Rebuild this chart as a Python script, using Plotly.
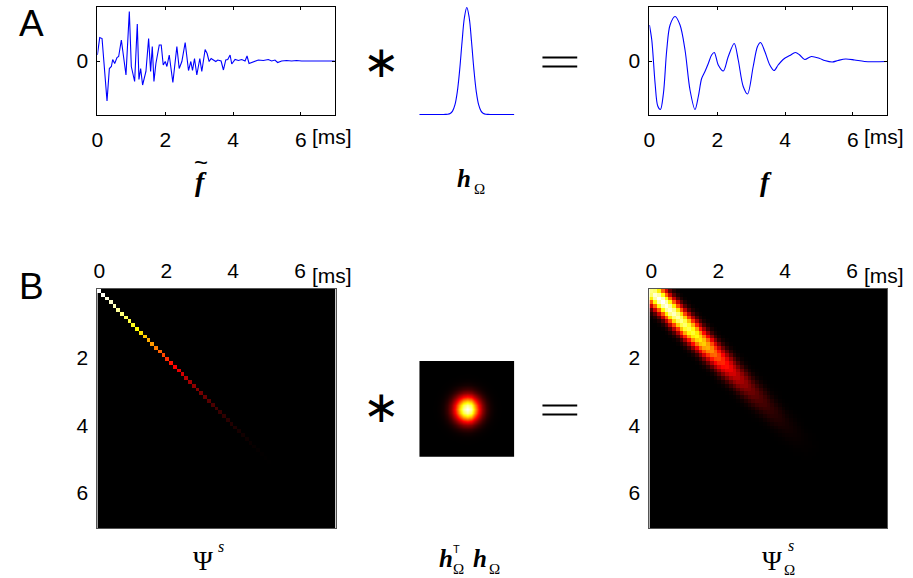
import numpy as np
import plotly.graph_objects as go

W, H = 913, 578

# ---------------- data ----------------
# panel A: noisy signal f~ (time in ms, amplitude)
ft_t = [0.0, 0.069, 0.137, 0.284, 0.353, 0.412, 0.451, 0.51, 0.578, 0.627, 0.706, 0.775, 0.843,
        0.941, 1.0, 1.098, 1.176, 1.225, 1.275, 1.333, 1.431, 1.51, 1.569, 1.618, 1.667, 1.725,
        1.824, 1.882, 1.941, 2.0, 2.049, 2.118, 2.225, 2.343, 2.412, 2.49, 2.588, 2.686, 2.755,
        2.804, 2.863, 2.931, 3.02, 3.078, 3.176, 3.235, 3.294, 3.353, 3.412, 3.49, 3.549, 3.647,
        3.716, 3.784, 3.843, 3.912, 3.961, 4.059, 4.157, 4.255, 4.353, 4.412, 4.471, 4.598, 4.745,
        4.892, 5.039, 5.137, 5.235, 5.314, 5.431, 5.578, 5.725, 5.873, 6.02, 7.0]
ft_v = [0.12, 0.47, 0.45, -0.80, -0.15, -0.11, 0.03, -0.05, 0.07, 0.09, 0.42, 0.02, -0.28,
        0.99, -0.11, -0.41, 0.74, -0.37, -0.15, -0.48, -0.21, 0.45, -0.21, 0.29, -0.41, -0.05,
        0.32, 0.32, -0.08, -0.01, -0.11, 0.12, -0.43, 0.29, -0.15, -0.01, 0.37, -0.19, -0.01,
        -0.19, 0.05, -0.28, 0.05, -0.21, 0.23, 0.15, -0.01, 0.05, 0.02, -0.01, 0.02, 0.0,
        -0.18, 0.02, 0.03, 0.12, -0.06, 0.03, 0.01, 0.03, 0.0, 0.10, -0.05, -0.01, 0.02,
        0.01, 0.03, 0.0, 0.02, -0.03, 0.0, 0.01, 0.0, 0.01, 0.0, 0.0]

# smoothing kernel h_Omega (samples)
h_t = list(range(-20, 21))
h_half = [1.0, 0.907, 0.677, 0.417, 0.212, 0.089, 0.031, 0.009, 0.002, 0.0004,
          0.0, 0.0, 0.0, 0.0, 0.0, 0.0, 0.0, 0.0, 0.0, 0.0, 0.0]
h_v = h_half[:0:-1] + h_half

# smoothed signal f
f_t = [0.0, 0.069, 0.167, 0.245, 0.324, 0.412, 0.51, 0.608, 0.755, 0.902, 1.049, 1.196, 1.343,
       1.441, 1.539, 1.637, 1.735, 1.833, 1.912, 2.029, 2.176, 2.324, 2.5, 2.618, 2.765, 2.892,
       3.059, 3.186, 3.275, 3.402, 3.549, 3.676, 3.794, 3.941, 4.137, 4.304, 4.431, 4.578,
       4.775, 5.02, 5.167, 5.392, 5.559, 5.784, 6.049, 6.343, 7.0]
f_v = [0.72, 0.42, -0.45, -0.90, -0.97, -0.65, 0.22, 0.72, 0.89, 0.72, 0.22, -0.58, -0.97,
       -0.71, -0.35, -0.21, -0.05, 0.12, 0.17, -0.08, -0.20, 0.09, 0.35, 0.02, -0.51, -0.66,
       -0.11, 0.29, 0.37, 0.19, -0.08, -0.19, -0.08, 0.03, 0.11, 0.17, 0.12, 0.03,
       0.09, 0.05, 0.01, -0.02, 0.01, 0.04, 0.02, -0.01, -0.01]

# panel B: diagonal of Psi^s (63 cells, 0..7 ms)
psi_diag = [1.0, 0.99, 0.97, 0.95, 0.93, 0.90, 0.87, 0.84, 0.81, 0.78, 0.75, 0.71, 0.67, 0.63,
            0.60, 0.56, 0.52, 0.48, 0.44, 0.40, 0.37, 0.34, 0.31, 0.27, 0.24, 0.21, 0.19, 0.17,
            0.15, 0.13, 0.11, 0.095, 0.082, 0.07, 0.06, 0.05, 0.042, 0.034, 0.027, 0.021, 0.016,
            0.012, 0.008, 0.005, 0.003, 0.001, 0.0, 0.0, 0.0, 0.0, 0.0, 0.0, 0.0, 0.0, 0.0, 0.0,
            0.0, 0.0, 0.0, 0.0, 0.0, 0.0, 0.0]
# Psi_Omega^s: amplitude along the diagonal and profile across it
band_amp = [0.88, 0.96, 1.0, 1.0, 0.98, 0.96, 0.94, 0.92, 0.89, 0.86, 0.83, 0.80, 0.76, 0.72,
            0.68, 0.63, 0.58, 0.53, 0.48, 0.43, 0.39, 0.35, 0.31, 0.27, 0.24, 0.21, 0.18, 0.155,
            0.13, 0.11, 0.095, 0.08, 0.067, 0.055, 0.045, 0.036, 0.028, 0.022, 0.016, 0.012,
            0.008, 0.005, 0.003, 0.001, 0.0, 0.0, 0.0, 0.0, 0.0, 0.0, 0.0, 0.0, 0.0, 0.0, 0.0,
            0.0, 0.0, 0.0, 0.0, 0.0, 0.0, 0.0, 0.0]
band_prof = [1.0, 0.93, 0.76, 0.52, 0.30, 0.13, 0.045, 0.01]

x_ticks = [0, 2, 4, 6]
y_ticks_B = [2, 4, 6]

# ---------------- build ----------------
N = len(psi_diag)
dt = 7.0 / (N - 1)
tg = [k * dt for k in range(N)]
Z1 = np.zeros((N, N))
for k in range(N):
    Z1[k, k] = psi_diag[k]
Z3 = np.zeros((N, N))
for i in range(N):
    for j in range(N):
        d = abs(i - j)
        if d < len(band_prof):
            m = (i + j) / 2.0
            a = 0.5 * (band_amp[int(np.floor(m))] + band_amp[int(np.ceil(m))])
            Z3[i, j] = a * band_prof[d]
Z2 = np.outer(h_v, h_v)

hot = [[0, 'rgb(0,0,0)'], [0.375, 'rgb(255,0,0)'], [0.75, 'rgb(255,255,0)'], [1, 'rgb(255,255,255)']]

def px(x):
    return x / W

def py(y):
    return 1 - y / H

fig = go.Figure()
blue = 'rgb(0,0,255)'
fig.add_trace(go.Scatter(x=ft_t, y=ft_v, mode='lines', line=dict(color=blue, width=1.1),
                         xaxis='x', yaxis='y'))
fig.add_trace(go.Scatter(x=h_t, y=h_v, mode='lines', line=dict(color=blue, width=1.1, shape='spline'),
                         xaxis='x2', yaxis='y2'))
fig.add_trace(go.Scatter(x=f_t, y=f_v, mode='lines', line=dict(color=blue, width=1.1, shape='spline', smoothing=0.9),
                         xaxis='x3', yaxis='y3'))
fig.add_trace(go.Heatmap(z=Z1, x=tg, y=tg, colorscale=hot, zmin=0, zmax=1, showscale=False,
                         xaxis='x4', yaxis='y4'))
fig.add_trace(go.Heatmap(z=Z2, x=h_t, y=h_t, colorscale=hot, zmin=0, zmax=1, showscale=False,
                         zsmooth='best', xaxis='x5', yaxis='y5'))
fig.add_trace(go.Heatmap(z=Z3, x=tg, y=tg, colorscale=hot, zmin=0, zmax=1, showscale=False,
                         xaxis='x6', yaxis='y6'))

tf = dict(family='Liberation Sans, Arial', size=21, color='black')
rowA = [py(115), py(7)]

def line_x(dom, anchor):
    return dict(domain=dom, range=[0, 7], tickvals=x_ticks, ticktext=[str(v) for v in x_ticks],
                ticks='inside', ticklen=3, tickcolor='black', showline=True, linecolor='black',
                linewidth=1, mirror='ticks', showgrid=False, zeroline=False, tickfont=tf,
                anchor=anchor, ticklabelstandoff=6)

def line_y(dom, anchor):
    return dict(domain=dom, range=[-1.08, 1.08], tickvals=[0], ticktext=['0'], ticks='inside',
                ticklen=3, tickcolor='black', showline=True, linecolor='black', linewidth=1,
                mirror='ticks', showgrid=False, zeroline=False, tickfont=tf, anchor=anchor,
                ticklabelstandoff=4)

hidden = dict(visible=False, showgrid=False, zeroline=False)
rowB = [py(528), py(289)]

def hm_x(dom, anchor):
    return dict(domain=dom, range=[-dt / 2, 7 + dt / 2], tickvals=x_ticks, side='top', ticks='',
                showline=True, linecolor='#555', linewidth=1, mirror=True, showgrid=False,
                zeroline=False, tickfont=tf, anchor=anchor, ticklabelstandoff=2)

def hm_y(dom, anchor):
    return dict(domain=dom, range=[7 + dt / 2, -dt / 2], tickvals=y_ticks_B, ticks='',
                showline=True, linecolor='#555', linewidth=1, mirror=True, showgrid=False,
                zeroline=False, tickfont=tf, anchor=anchor, ticklabelstandoff=4)

fig.update_layout(
    width=W, height=H, margin=dict(l=0, r=0, t=0, b=0),
    paper_bgcolor='white', plot_bgcolor='white', showlegend=False,
    xaxis=line_x([px(92), px(331)], 'y'),
    yaxis=line_y(rowA, 'x'),
    xaxis2=dict(domain=[px(416), px(511.7)], range=[-20, 20], anchor='y2', **hidden),
    yaxis2=dict(domain=rowA, range=[-0.005, 1.005], anchor='x2', **hidden),
    xaxis3=line_x([px(647.7), px(886.7)], 'y3'),
    yaxis3=line_y(rowA, 'x3'),
    xaxis4=hm_x([px(92), px(331.7)], 'y4'),
    yaxis4=hm_y(rowB, 'x4'),
    xaxis5=dict(domain=[px(416), px(511.7)], range=[-12, 12], anchor='y5', **hidden),
    yaxis5=dict(domain=[py(456.7), py(361)], range=[-12, 12], anchor='x5', **hidden),
    xaxis6=hm_x([px(647.7), px(887.3)], 'y6'),
    yaxis6=hm_y(rowB, 'x6'),
)

ann = []

def txt(x, y, s, size, family='Liberation Sans, Arial', xanchor='center', yanchor='middle'):
    ann.append(dict(x=px(x), y=py(y), xref='paper', yref='paper', text=s, showarrow=False,
                    xanchor=xanchor, yanchor=yanchor,
                    font=dict(family=family, size=size, color='black')))

serif = 'Liberation Serif, Times New Roman'
txt(26, 24, 'A', 37)
txt(26, 286, 'B', 37)
# "[ms]" after tick 6
txt(92 + 6 * 239 / 7 + 9, 137, '[ms]', 21, xanchor='left')
txt(647.7 + 6 * 239 / 7 + 9, 137, '[ms]', 21, xanchor='left')
txt(92 + 1.9 + 6 * 33.7 + 10, 275, '[ms]', 21, xanchor='left')
txt(647.7 + 1.9 + 6 * 33.7 + 10, 275, '[ms]', 21, xanchor='left')
# operators
txt(378, 62, '\u2217', 44, family='DejaVu Sans')
txt(378, 406, '\u2217', 44, family='DejaVu Sans')
# labels
txt(196, 162, '~', 24)
txt(196, 181, '<b><i>f</i></b>', 28, family=serif)
txt(461.5, 179, '<b><i>h</i></b>', 25, family=serif)
txt(477, 189, '\u03a9', 15, family=serif)
txt(765, 181, '<b><i>f</i></b>', 28, family=serif)
txt(198.5, 561, '\u03a8', 27, family=serif)
txt(216, 546, '<i>s</i>', 16, family=serif)
txt(442.5, 558, '<b><i>h</i></b>', 25, family=serif)
txt(453, 549, 'T', 11)
txt(455, 569, '\u03a9', 15, family=serif)
txt(477.5, 558, '<b><i>h</i></b>', 25, family=serif)
txt(492, 569, '\u03a9', 15, family=serif)
txt(771.5, 561, '\u03a8', 27, family=serif)
txt(790, 545, '<i>s</i>', 16, family=serif)
txt(788.5, 570, '\u03a9', 15, family=serif)
fig.update_layout(annotations=ann)

shapes = []
for yy in (57.5, 66.5, 405.5, 414.5):
    shapes.append(dict(type='line', xref='paper', yref='paper', x0=px(540), x1=px(575),
                       y0=py(yy), y1=py(yy), line=dict(color='black', width=2.2)))
fig.update_layout(shapes=shapes)

fig.write_html('out.html', config={'displayModeBar': False},
               post_script="document.body.style.margin='0';document.body.style.overflow='hidden';")
